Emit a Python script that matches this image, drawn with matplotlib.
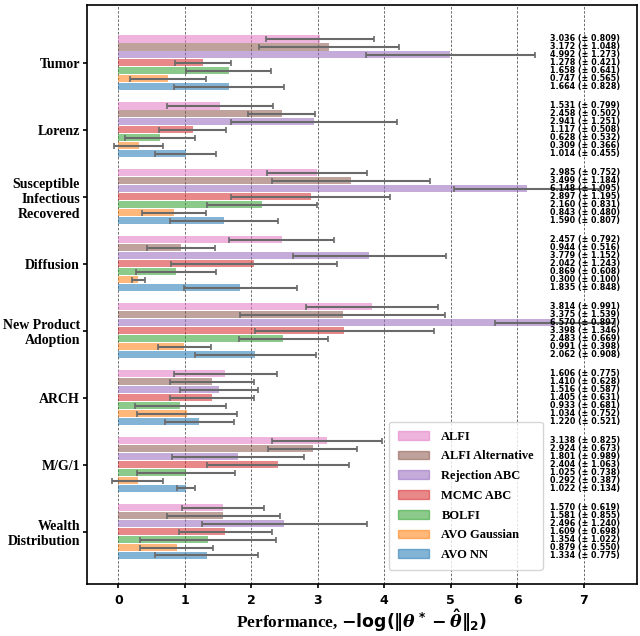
import matplotlib
matplotlib.use("Agg")
import matplotlib.pyplot as plt
import matplotlib.patches as mpatches
import numpy as np

plt.rcParams['mathtext.fontset'] = 'custom'
plt.rcParams['mathtext.rm'] = 'DejaVu Sans:bold'
plt.rcParams['mathtext.bf'] = 'DejaVu Sans:bold'
plt.rcParams['mathtext.it'] = 'DejaVu Serif:italic:bold'

groups = ["Tumor", "Lorenz", "Susceptible\nInfectious\nRecovered", "Diffusion",
          "New Product\nAdoption", "ARCH", "M/G/1", "Wealth\nDistribution"]
methods = ["ALFI", "ALFI Alternative", "Rejection ABC", "MCMC ABC", "BOLFI",
           "AVO Gaussian", "AVO NN"]
colors = ["#e377c2", "#8c564b", "#9467bd", "#d62728", "#2ca02c", "#ff7f0e", "#1f77b4"]

alfi =      [3.036, 1.531, 2.985, 2.457, 3.814, 1.606, 3.138, 1.570]
alfi_err =  [0.809, 0.799, 0.752, 0.792, 0.991, 0.775, 0.825, 0.619]
alt =       [3.172, 2.458, 3.499, 0.944, 3.375, 1.410, 2.924, 1.581]
alt_err =   [1.048, 0.502, 1.184, 0.516, 1.539, 0.628, 0.673, 0.855]
rej =       [4.992, 2.941, 6.148, 3.779, 6.570, 1.516, 1.801, 2.496]
rej_err =   [1.273, 1.251, 1.095, 1.152, 0.897, 0.587, 0.989, 1.240]
mcmc =      [1.278, 1.117, 2.897, 2.042, 3.398, 1.405, 2.404, 1.609]
mcmc_err =  [0.421, 0.508, 1.195, 1.243, 1.346, 0.631, 1.063, 0.698]
bolfi =     [1.658, 0.628, 2.160, 0.869, 2.483, 0.933, 1.025, 1.354]
bolfi_err = [0.641, 0.532, 0.831, 0.608, 0.669, 0.681, 0.738, 1.022]
avog =      [0.747, 0.309, 0.843, 0.300, 0.991, 1.034, 0.292, 0.879]
avog_err =  [0.565, 0.366, 0.480, 0.100, 0.398, 0.752, 0.387, 0.550]
avonn =     [1.664, 1.014, 1.590, 1.835, 2.062, 1.220, 1.022, 1.334]
avonn_err = [0.828, 0.455, 0.807, 0.848, 0.908, 0.521, 0.134, 0.775]

values = [alfi, alt, rej, mcmc, bolfi, avog, avonn]
errors = [alfi_err, alt_err, rej_err, mcmc_err, bolfi_err, avog_err, avonn_err]
xticks = [0, 1, 2, 3, 4, 5, 6, 7]

fig = plt.figure(figsize=(6.4, 6.36), dpi=100)
ax = fig.add_axes([0.136, 0.081, 0.859, 0.911])

step = 0.119
ypos = np.arange(len(groups))
for j, (vals, errs, c) in enumerate(zip(values, errors, colors)):
    y = ypos + (j - 3) * step
    ax.barh(y, vals, height=0.112, color=c, alpha=0.55, linewidth=0)
    ax.errorbar(vals, y, xerr=errs, fmt='none', ecolor='#6a6a6a', elinewidth=1.5,
                capsize=2.5, capthick=1.2)
    for yy, v, e in zip(y, vals, errs):
        ax.text(6.49, yy, f"{v:.3f} (\u00b1 {e:.3f})", fontsize=5.8, fontweight='bold',
                va='center', ha='left', family='DejaVu Sans')

for xt in xticks:
    ax.axvline(xt, color='#555555', linestyle=(0, (3, 2)), linewidth=0.6, zorder=0)

ax.set_xlim(-0.47, 7.8)
ax.set_ylim(7.79, -0.86)
ax.set_yticks(ypos)
ax.set_yticklabels(groups, family='Liberation Serif', fontweight='bold', fontsize=10,
                   ha='right', multialignment='right')
ax.set_xticks(xticks)
ax.set_xticklabels([str(t) for t in xticks], fontweight='bold', fontsize=9,
                   family='DejaVu Sans')
ax.tick_params(axis='both', length=3, width=1.2)
ax.tick_params(axis='y', pad=2)
ax.tick_params(axis='x', pad=4)
for s in ax.spines.values():
    s.set_linewidth(1.2)

ax.set_xlabel(r"Performance, $-\mathrm{log}(\|\theta^* - \hat{\theta}\|_2)$",
              family='Liberation Serif', fontweight='bold', fontsize=12.5, labelpad=0)

handles = [mpatches.Patch(color=c, alpha=0.55, label=m) for m, c in zip(methods, colors)]
leg = ax.legend(handles=handles, loc='lower right', bbox_to_anchor=(0.848, 0.104),
                bbox_transform=fig.transFigure, borderaxespad=0,
                prop={'family': 'Liberation Serif', 'weight': 'bold', 'size': 9},
                handlelength=2.5, labelspacing=0.62, borderpad=0.7, handletextpad=1.0)

fig.savefig("out.png", dpi=100)
